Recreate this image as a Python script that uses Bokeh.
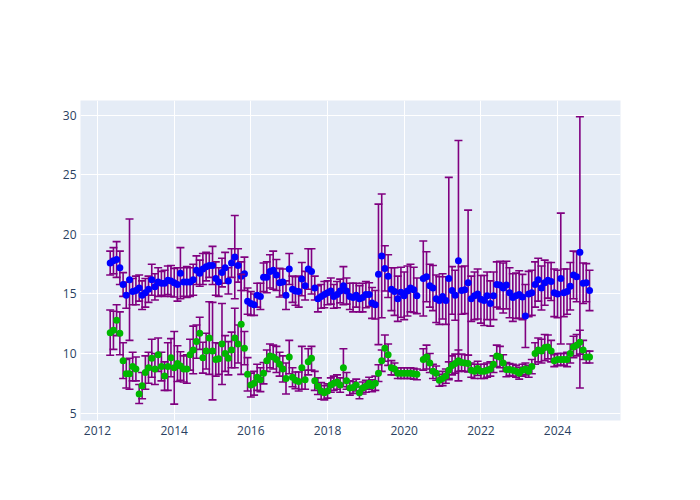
import pandas as pd
from datetime import datetime
from bokeh.plotting import figure
from bokeh.models import ColumnDataSource, FixedTicker, DatetimeTickFormatter, Range1d
from bokeh.embed import file_html
from bokeh.resources import INLINE

nan = float("nan")

# monthly series, May 2012 .. Nov 2024
first_month = "2012-05-01"

blue_values = [
    17.6, 17.8, 17.9, 17.2, 15.8, 14.9, 16.2, 15.2,
    15.3, 15.5, 14.9, 15.1, 15.4, 16.2, 15.6, 16.0, 15.9, 15.9, 16.15, 16.1,
    15.95, 15.8, 16.75, 16.0, 16.0, 16.0, 16.2, 17.0, 16.75, 17.1, 17.3, 17.4,
    17.4, 16.3, 16.0, 16.8, 17.2, 16.1, 17.6, 18.1, 17.4, 16.5, 16.7, 14.4,
    14.2, 14.1, 14.9, 14.8, 16.4, 16.4, 16.9, 17.0, 16.6, 15.95, 16.0, 14.9,
    17.1, 15.4, 15.25, 15.2, 16.25, 15.7, 17.1, 16.9, 15.5, 14.6, 14.8, 14.95,
    15.1, 15.25, 14.8, 14.95, 15.25, 15.7, 15.25, 14.8, 14.7, 14.9, 14.6, 14.7,
    14.95, 14.95, 14.25, 14.1, 16.65, 18.2, 17.15, 16.5, 15.4, 15.2, 14.6, 15.15,
    14.85, 15.25, 15.5, 15.35, 14.85, nan, 16.3, 16.45, 15.7, 15.5, 14.6, 14.45,
    14.8, 14.45, 16.3, 15.3, 14.9, 17.8, 15.3, 15.35, 15.95, 14.6, 14.85, 15.0,
    14.55, 14.45, 14.85, 14.2, 14.85, 15.8, 15.75, 15.5, 15.75, 15.1, 14.7, 14.85,
    14.95, 14.75, 13.15, 15.0, 15.1, 15.8, 16.2, 15.5, 15.95, 16.15, 16.05, 15.1,
    15.0, 16.3, 15.1, 15.2, 15.65, 16.6, 16.45, 18.5, 15.9, 15.95, 15.3,
]

blue_errors = [
    1.0, 1.1, 1.5, 1.4, 1.0, 1.1, 5.1, 1.1,
    1.2, 1.1, 1.2, 1.2, 1.1, 1.3, 1.1, 1.2, 1.0, 1.1, 1.2, 1.3,
    1.2, 1.4, 2.15, 1.2, 1.3, 1.2, 1.3, 1.2, 1.1, 1.3, 1.2, 1.0,
    1.6, 1.4, 1.2, 1.2, 1.3, 1.1, 1.2, 3.5, 1.4, 1.2, 1.4, 1.1,
    1.0, 0.9, 1.0, 1.1, 1.2, 1.3, 1.4, 1.6, 1.3, 1.2, 1.1, 1.2,
    1.3, 1.1, 1.2, 1.3, 1.4, 1.2, 1.7, 1.9, 1.0, 1.1, 1.0, 1.1,
    1.0, 1.1, 1.0, 1.1, 1.0, 1.6, 1.1, 1.1, 1.2, 1.0, 1.1, 1.2,
    1.1, 1.0, 1.3, 1.2, 5.9, 5.2, 1.9, 1.8, 1.8, 2.0, 1.9, 2.1,
    2.0, 2.1, 2.0, 1.9, 1.5, nan, 3.15, 2.1, 1.8, 1.9, 2.0, 2.0,
    1.9, 2.0, 8.5, 2.0, 2.1, 10.1, 2.0, 2.0, 6.1, 1.9, 2.0, 2.1,
    2.0, 2.1, 2.0, 1.9, 2.0, 1.9, 2.0, 2.1, 2.0, 2.1, 2.0, 1.9,
    2.0, 1.9, 2.65, 1.9, 1.9, 1.9, 1.8, 1.85, 1.9, 1.5, 1.6, 2.0,
    2.0, 5.5, 2.0, 1.9, 2.0, 2.0, 2.1, 11.4, 1.7, 1.6, 1.7,
]

green_values = [
    11.75, 11.95, 12.8, 11.7, 9.4, 8.3, 8.3, 8.9,
    8.7, 6.6, 7.3, 8.4, 8.8, 9.6, 8.7, 9.9, 8.9, 8.1, 8.9, 9.65,
    8.8, 9.15, 8.95, 8.7, 8.7, 9.9, 10.3, 11.0, 11.7, 9.65, 10.2, 11.3,
    10.2, 9.5, 9.55, 10.8, 10.0, 9.6, 10.3, 11.3, 10.8, 12.45, 10.45, 8.25,
    7.35, 7.5, 8.0, 7.8, 8.35, 9.4, 9.8, 9.7, 9.5, 9.1, 8.7, 7.9,
    9.7, 8.0, 7.75, 7.65, 8.8, 7.8, 9.3, 9.6, 7.7, 7.25, 6.85, 6.7,
    6.85, 7.35, 7.5, 7.6, 7.35, 8.8, 7.7, 7.1, 7.15, 7.35, 6.7, 7.1,
    7.25, 7.5, 7.3, 7.5, 8.35, 9.4, 10.45, 9.9, 8.8, 8.7, 8.35, 8.35,
    8.35, 8.35, 8.35, 8.3, 8.25, nan, 9.5, 9.7, 9.2, 8.5, 8.35, 7.75,
    7.9, 8.1, 8.6, 9.0, 9.15, 9.4, 9.25, 9.2, 9.15, 8.6, 8.5, 8.75,
    8.5, 8.5, 8.6, 8.7, 9.1, 9.8, 9.7, 9.2, 8.65, 8.65, 8.6, 8.5,
    8.35, 8.6, 8.7, 8.5, 8.9, 10.0, 10.3, 10.2, 10.5, 10.55, 10.2, 9.4,
    9.5, 9.5, 9.5, 9.5, 10.0, 10.55, 10.7, 10.95, 10.3, 9.7, 9.7,
]

green_errors = [
    1.9, 1.6, 1.3, 1.8, 1.5, 1.2, 1.3, 1.2,
    1.0, 0.8, 1.1, 1.4, 1.3, 1.6, 1.3, 1.4, 1.2, 1.2, 2.0, 1.6,
    3.05, 1.5, 1.2, 1.1, 1.2, 1.3, 2.0, 1.4, 1.35, 1.3, 1.5, 3.05,
    4.1, 1.4, 1.3, 3.4, 1.5, 1.4, 1.5, 2.5, 1.6, 4.2, 1.4, 1.4,
    1.0, 1.0, 1.1, 1.0, 0.9, 0.9, 1.0, 1.0, 1.1, 1.0, 1.1, 1.3,
    1.4, 0.8, 0.7, 0.8, 1.8, 0.8, 1.1, 1.0, 0.8, 0.7, 0.7, 0.6,
    0.6, 0.6, 0.6, 0.6, 0.6, 1.6, 0.7, 0.6, 0.5, 0.5, 0.5, 0.5,
    0.5, 0.5, 0.5, 0.6, 0.7, 0.9, 1.1, 0.9, 0.6, 0.5, 0.45, 0.45,
    0.45, 0.45, 0.45, 0.45, 0.45, nan, 0.9, 1.0, 0.8, 0.6, 0.6, 0.5,
    0.6, 0.6, 0.7, 0.8, 0.8, 0.9, 0.7, 0.7, 0.7, 0.6, 0.6, 0.6,
    0.6, 0.6, 0.6, 0.6, 0.7, 0.9, 0.9, 0.7, 0.6, 0.5, 0.5, 0.5,
    0.5, 0.5, 0.5, 0.5, 0.6, 0.9, 1.0, 1.0, 1.1, 1.0, 0.9, 0.5,
    0.5, 0.5, 0.5, 0.6, 0.8, 0.9, 0.9, 1.0, 0.8, 0.5, 0.5,
]

x_tick_years = [2012, 2014, 2016, 2018, 2020, 2022, 2024]
y_ticks = [5, 10, 15, 20, 25, 30]

dates = pd.date_range(first_month, periods=len(blue_values), freq="MS")


def make_source(vals, errs):
    return ColumnDataSource(dict(
        x=dates,
        y=vals,
        upper=[v + e for v, e in zip(vals, errs)],
        lower=[v - e for v, e in zip(vals, errs)],
    ))


blue_src = make_source(blue_values, blue_errors)
green_src = make_source(green_values, green_errors)

p = figure(
    width=692, height=492,
    x_axis_type="datetime",
    output_backend="svg", toolbar_location=None,
    x_range=Range1d(datetime(2011, 7, 23), datetime(2025, 8, 23)),
    y_range=Range1d(4.37, 31.26),
    min_border_left=80, min_border_right=72,
    min_border_top=100, min_border_bottom=72,
)
p.background_fill_color = "#E5ECF6"
p.border_fill_color = "white"
p.outline_line_color = None

xt = FixedTicker(ticks=[pd.Timestamp(f"{y}-01-01").value / 1e6 for y in x_tick_years])
p.xaxis.ticker = xt
p.xgrid.ticker = xt
p.xaxis.formatter = DatetimeTickFormatter(
    years="%Y", months="%Y", days="%Y", hours="%Y", minutes="%Y",
    seconds="%Y", milliseconds="%Y", microseconds="%Y",
)
yt = FixedTicker(ticks=y_ticks)
p.yaxis.ticker = yt
p.ygrid.ticker = yt

p.grid.grid_line_color = "white"
p.grid.grid_line_width = 1
p.axis.axis_line_color = None
p.axis.major_tick_line_color = None
p.axis.minor_tick_line_color = None
p.axis.major_tick_out = 0
p.axis.major_tick_in = 0
p.axis.minor_tick_out = 0
p.axis.major_label_text_font = "Open Sans"
p.axis.major_label_text_font_size = "12px"
p.axis.major_label_text_color = "#2a3f5f"
p.xaxis.major_label_standoff = 5
p.yaxis.major_label_standoff = 4

bar_color = "#800080"
for src, col in ((blue_src, "#0000FF"), (green_src, "#00B800")):
    p.segment(x0="x", y0="lower", x1="x", y1="upper", source=src,
              line_color=bar_color, line_width=1.6)
    p.scatter(x="x", y="upper", source=src, marker="dash", size=8,
              line_color=bar_color, line_width=1.6)
    p.scatter(x="x", y="lower", source=src, marker="dash", size=8,
              line_color=bar_color, line_width=1.6)
    p.scatter(x="x", y="y", source=src, marker="circle", size=7,
              fill_color=col, line_color=None)

open("out.html", "w").write(file_html(p, INLINE))
